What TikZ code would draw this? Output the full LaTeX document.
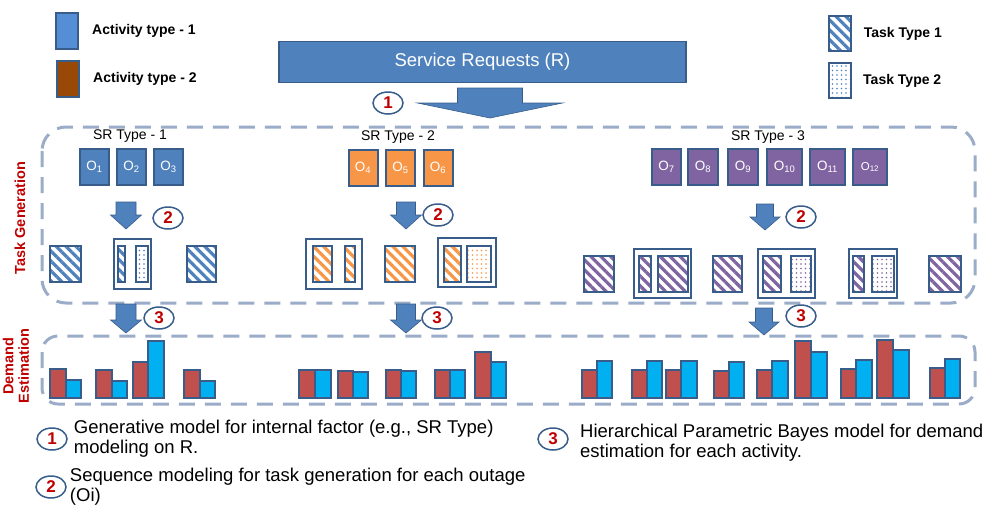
\documentclass[tikz,border=0pt]{standalone}
\usepackage{fontspec}
\setmainfont{Liberation Sans}
\usetikzlibrary{positioning,shapes.geometric,patterns.meta}
\definecolor{EdgeBlue}{RGB}{56,93,138}
\definecolor{BoxBlue}{RGB}{79,129,189}
\definecolor{ActBlue}{RGB}{85,142,213}
\definecolor{ActBrown}{RGB}{152,72,7}
\definecolor{SROrange}{RGB}{247,150,70}
\definecolor{SRPurple}{RGB}{128,100,162}
\definecolor{BarRed}{RGB}{192,80,77}
\definecolor{BarCyan}{RGB}{0,176,240}
\definecolor{FrameGray}{RGB}{154,172,200}
\definecolor{NumRed}{RGB}{192,0,0}
% block arrow pointing down: cx, ytop, yneck, ytip, shaft half width, head half width
\newcommand{\downblock}[6]{%
  \filldraw[fill=BoxBlue, draw=EdgeBlue, line width=0.6pt]
    (#1-#5,#2) -- (#1+#5,#2) -- (#1+#5,#3) -- (#1+#6,#3) -- (#1,#4)
    -- (#1-#6,#3) -- (#1-#5,#3) -- cycle;}

\begin{document}
\begin{tikzpicture}[x=1pt, y=-1pt,
    obox/.style={draw=EdgeBlue, line width=2pt, fill=#1, minimum width=29pt, minimum height=36pt,
      inner sep=0pt, text=white, font=\fontsize{13.5}{13.5}\selectfont},
    num/.style={ellipse, draw=EdgeBlue, line width=1.5pt, fill=white, minimum width=30pt,
      minimum height=22pt, inner sep=0pt, text=NumRed, font=\bfseries\fontsize{17}{17}\selectfont},
    stripebox/.style={draw=EdgeBlue, line width=2pt,
      pattern={Lines[angle=-45,distance=7pt,line width=3.2pt]}, pattern color=#1},
    dotbox/.style={draw=EdgeBlue, line width=2pt,
      pattern={Dots[distance=4.5pt,radius=0.8pt]}, pattern color=#1},
    holder/.style={draw=EdgeBlue, line width=2pt, fill=white},
    dashframe/.style={draw=FrameGray, line width=3pt, dash pattern=on 16pt off 10pt},
    redbar/.style={draw=EdgeBlue, line width=2pt, fill=BarRed},
    bluebar/.style={draw=EdgeBlue, line width=2pt, fill=BarCyan},
    legtext/.style={font=\bfseries\fontsize{14}{14}\selectfont, inner sep=0pt, anchor=west},
    srlabel/.style={font=\fontsize{14}{14}\selectfont},
    desc/.style={font=\fontsize{18.5}{20}\selectfont, align=left, inner sep=0pt, anchor=west},
    sidelabel/.style={rotate=90, text=NumRed, font=\bfseries\fontsize{14.5}{15.5}\selectfont, align=center}
  ]
  \useasboundingbox (0,0) rectangle (991,507);

  % legends
  \node[draw=EdgeBlue, line width=2pt, fill=ActBlue, minimum width=22pt, minimum height=36pt, inner sep=0pt] (act1) at (67,31) {};
  \node[legtext, right=13pt of act1] (act1t) {Activity type - 1};
  \node[draw=EdgeBlue, line width=2pt, fill=ActBrown, minimum width=22pt, minimum height=36pt, inner sep=0pt] (act2) at (68,79) {};
  \node[legtext, right=13pt of act2] (act2t) {Activity type - 2};
  \node[stripebox=BoxBlue, minimum width=22pt, minimum height=35pt, inner sep=0pt] (tt1) at (840,33.5) {};
  \node[legtext, right=11pt of tt1] (tt1t) {Task Type 1};
  \node[dotbox=BoxBlue, minimum width=22pt, minimum height=35pt, inner sep=0pt] (tt2) at (840,80.5) {};
  \node[legtext, right=11pt of tt2] (tt2t) {Task Type 2};

  % service requests
  \node[draw=EdgeBlue, line width=1.5pt, fill=BoxBlue, minimum width=407pt, minimum height=41pt,
    text=white, font=\fontsize{18.5}{18.5}\selectfont] (sr) at (482.5,62) {Service Requests (R)};
  \downblock{490}{88}{103}{118}{32.5}{72.5}
  \node[num] (n1) at (388,103) {1};

  % frames
  \draw[dashframe, rounded corners=24pt] (42,127) rectangle (975,303);
  \draw[dashframe, rounded corners=16pt] (42,336) rectangle (975,404);
  \node[sidelabel] (tg) at (20,218) {Task Generation};
  \node[sidelabel] (de) at (16,366) {Demand\\Estimation};

  % SR Type - 1
  \node[srlabel] (sr1) at (130,136) {SR Type - 1};
  \node[obox=BoxBlue] (o1) at (94.5,167) {O\textsubscript{1}};
  \node[obox=BoxBlue, right=6pt of o1] (o2) {O\textsubscript{2}};
  \node[obox=BoxBlue, right=6pt of o2] (o3) {O\textsubscript{3}};
  \downblock{126}{202}{215}{229}{10}{15.5}
  \node[num] (n2a) at (168,218) {2};
  \draw[stripebox=BoxBlue] (50,246) rectangle (81,282);
  \draw[holder] (114,239) rectangle (151,289);
  \draw[stripebox=BoxBlue] (118,246) rectangle (125,282);
  \draw[dotbox=BoxBlue] (136,246) rectangle (148,282);
  \draw[stripebox=BoxBlue] (187,246) rectangle (216,282);

  % SR Type - 2
  \node[srlabel] (sr2) at (398,137) {SR Type - 2};
  \node[obox=SROrange] (o4) at (363,167.5) {O\textsubscript{4}};
  \node[obox=SROrange, right=6.5pt of o4] (o5) {O\textsubscript{5}};
  \node[obox=SROrange, right=6.5pt of o5] (o6) {O\textsubscript{6}};
  \downblock{406}{202}{215}{229}{9.5}{15.5}
  \node[num] (n2b) at (438,215) {2};
  \draw[holder] (306,239) rectangle (362,289);
  \draw[stripebox=SROrange] (313,246) rectangle (332,282);
  \draw[stripebox=SROrange] (345,246) rectangle (355,282);
  \draw[stripebox=SROrange] (385,246) rectangle (415,282);
  \draw[holder] (438,238) rectangle (496,287);
  \draw[stripebox=SROrange] (444,246) rectangle (461,282);
  \draw[dotbox=SROrange] (467,246) rectangle (491,282);

  % SR Type - 3
  \node[srlabel] (sr3) at (768,137) {SR Type - 3};
  \node[obox=SRPurple] (o7) at (666.5,167) {O\textsubscript{7}};
  \node[obox=SRPurple, minimum width=30pt, right=5pt of o7] (o8) {O\textsubscript{8}};
  \node[obox=SRPurple, minimum width=30pt, right=8pt of o8] (o9) {O\textsubscript{9}};
  \node[obox=SRPurple, minimum width=35pt, right=7pt of o9] (o10) {O\textsubscript{10}};
  \node[obox=SRPurple, minimum width=35pt, right=6pt of o10] (o11) {O\textsubscript{11}};
  \node[obox=SRPurple, minimum width=34pt, right=6pt of o11, font=\fontsize{11.5}{11.5}\selectfont] (o12) {O\textsubscript{12}};
  \downblock{765}{204}{217}{230}{8.5}{15}
  \node[num] (n2c) at (801,217) {2};
  \draw[stripebox=SRPurple] (584,256) rectangle (614,292);
  \draw[holder] (634,249) rectangle (691,298);
  \draw[stripebox=SRPurple] (639,256) rectangle (651,292);
  \draw[stripebox=SRPurple] (658,256) rectangle (688,292);
  \draw[stripebox=SRPurple] (713,256) rectangle (742,292);
  \draw[holder] (758,249) rectangle (815,298);
  \draw[stripebox=SRPurple] (763,256) rectangle (781,292);
  \draw[dotbox=SRPurple] (791,256) rectangle (811,292);
  \draw[holder] (849,249) rectangle (897,298);
  \draw[stripebox=SRPurple] (853,256) rectangle (864,292);
  \draw[dotbox=SRPurple] (872,256) rectangle (894,292);
  \draw[stripebox=SRPurple] (929,256) rectangle (961,292);

  % demand estimation
  \downblock{126}{304}{320}{333}{10}{15.5}
  \node[num] (n3a) at (159,318) {3};
  \downblock{406}{304}{320}{333}{9.5}{15.5}
  \node[num] (n3b) at (437,318) {3};
  \downblock{764}{308}{322}{335}{8.5}{15}
  \node[num] (n3c) at (801,316) {3};
  \foreach \a/\b/\c/\r/\s in {50/66/81/369/380, 96/112/127/370/381, 133/148/164/362/341,
      184/200/215/370/381, 299/315/331/370/370, 338/353/368/371/372, 386/401/416/370/371,
      435/450/465/370/370, 475/491/506/352/362, 582/597/612/370/361, 632/647/662/370/361,
      666/681/697/370/361, 714/729/744/371/362, 757/772/788/370/361, 795/811/827/341/352,
      841/856/872/369/360, 877/893/909/340/350, 930/945/960/368/359}
    {\draw[redbar] (\a,\r) rectangle (\b,398);
     \draw[bluebar] (\b,\s) rectangle (\c,398);}

  % notes
  \node[num] (k1) at (52,439) {1};
  \node[desc, right=6pt of k1] (k1t) {Generative model for internal factor (e.g., SR Type)\\modeling on R.};
  \node[num] (k2) at (51,487) {2};
  \node[desc, right=3pt of k2] (k2t) {Sequence modeling for task generation for each outage\\(Oi)};
  \node[num] (k3) at (553,439) {3};
  \node[desc] (k3t) at (580,443) {Hierarchical Parametric Bayes model for demand\\estimation for each activity.};
\end{tikzpicture}
\end{document}
